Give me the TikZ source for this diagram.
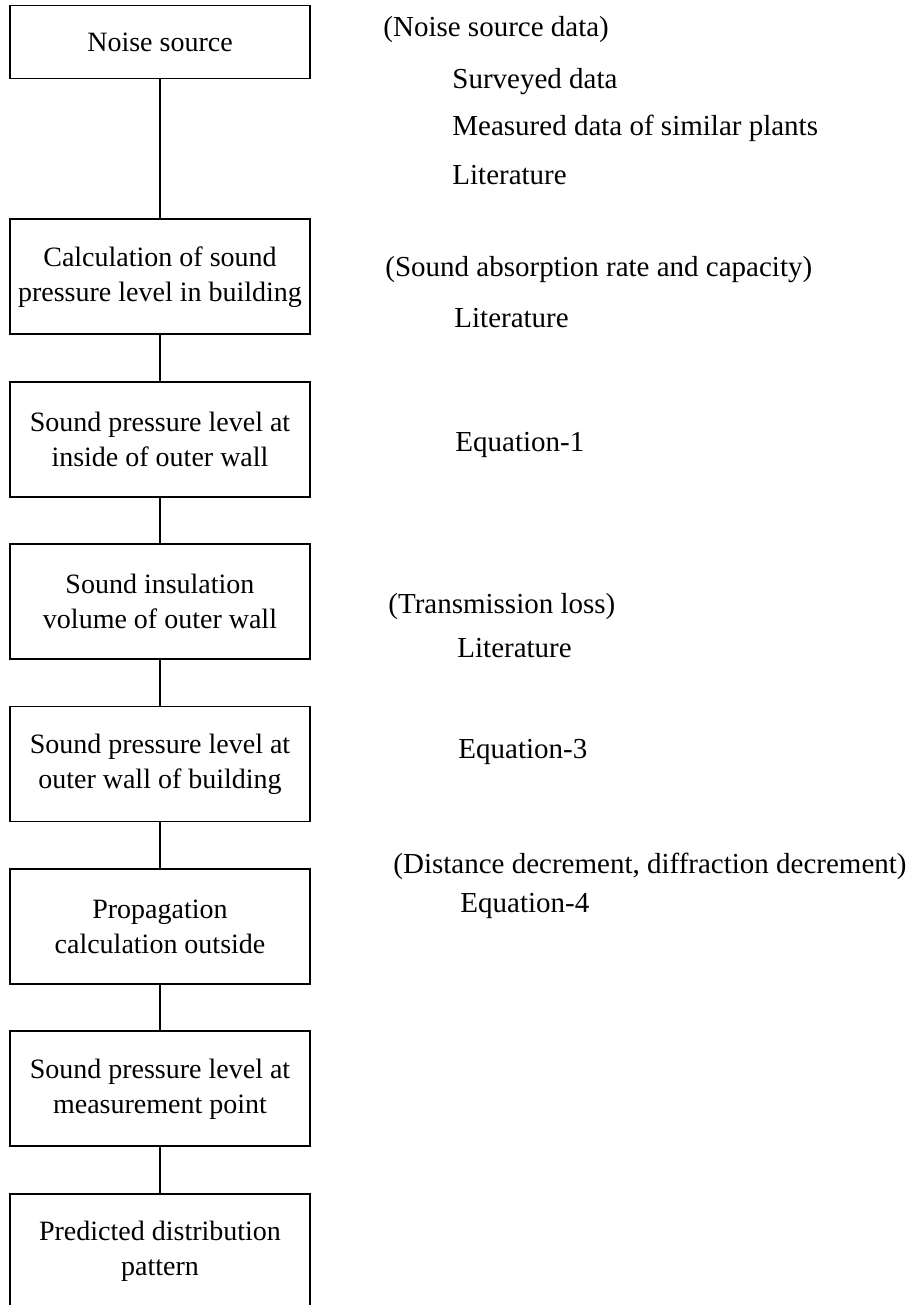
\documentclass[tikz,border=0pt]{standalone}
\usepackage{fontspec}
\setmainfont{Liberation Serif}
\usetikzlibrary{positioning}

\begin{document}
\begin{tikzpicture}[
    x=0.5pt, y=-0.5pt,
    node distance = 22.8pt and 12mm,% for distance between boxes
       box/.style = {draw, line width=0.9pt, minimum width=150pt, minimum height=57.5pt,
                     align=center, font=\fontsize{14}{17.5}\selectfont},% step boxes
      note/.style = {anchor=west, inner sep=0pt, font=\fontsize{14.5}{16}\selectfont}% side notes
    ]
    \useasboundingbox (0,0) rectangle (919,1305);
    % flow of the calculation
    \node (src) [box, minimum height=36.5pt] at (160,42) {Noise source};
    \node (calc) [box, below=69.5pt of src] {Calculation of sound\\pressure level in building};
    \node (inwall) [box, below=of calc] {Sound pressure level at\\inside of outer wall};
    \node (insul) [box, below=of inwall] {Sound insulation\\volume of outer wall};
    \node (outwall) [box, below=of insul] {Sound pressure level at\\outer wall of building};
    \node (prop) [box, below=of outwall] {Propagation\\calculation outside};
    \node (meas) [box, below=of prop] {Sound pressure level at\\measurement point};
    \node (pred) [box, below=of meas] {Predicted distribution\\pattern};
    \draw[line width=0.9pt] (src) -- (calc);
    \draw[line width=0.9pt] (calc) -- (inwall);
    \draw[line width=0.9pt] (inwall) -- (insul);
    \draw[line width=0.9pt] (insul) -- (outwall);
    \draw[line width=0.9pt] (outwall) -- (prop);
    \draw[line width=0.9pt] (prop) -- (meas);
    \draw[line width=0.9pt] (meas) -- (pred);
    % data used at each step
    \node (srcdata) [note] at (383,30) {(Noise source data)};
    \node (survey) [note] at (452,82) {Surveyed data};
    \node (similar) [note] at (452,128) {Measured data of similar plants};
    \node (lit1) [note] at (452,175) {Literature};
    \node (absorb) [note] at (385,270) {(Sound absorption rate and capacity)};
    \node (lit2) [note] at (454,318) {Literature};
    \node (eq1) [note] at (455,445) {Equation-1};
    \node (trans) [note] at (388,607) {(Transmission loss)};
    \node (lit3) [note] at (457,648) {Literature};
    \node (eq3) [note] at (458,752) {Equation-3};
    \node (decr) [note] at (393,866) {(Distance decrement, diffraction decrement)};
    \node (eq4) [note] at (460,906) {Equation-4};
\end{tikzpicture}
\end{document}
